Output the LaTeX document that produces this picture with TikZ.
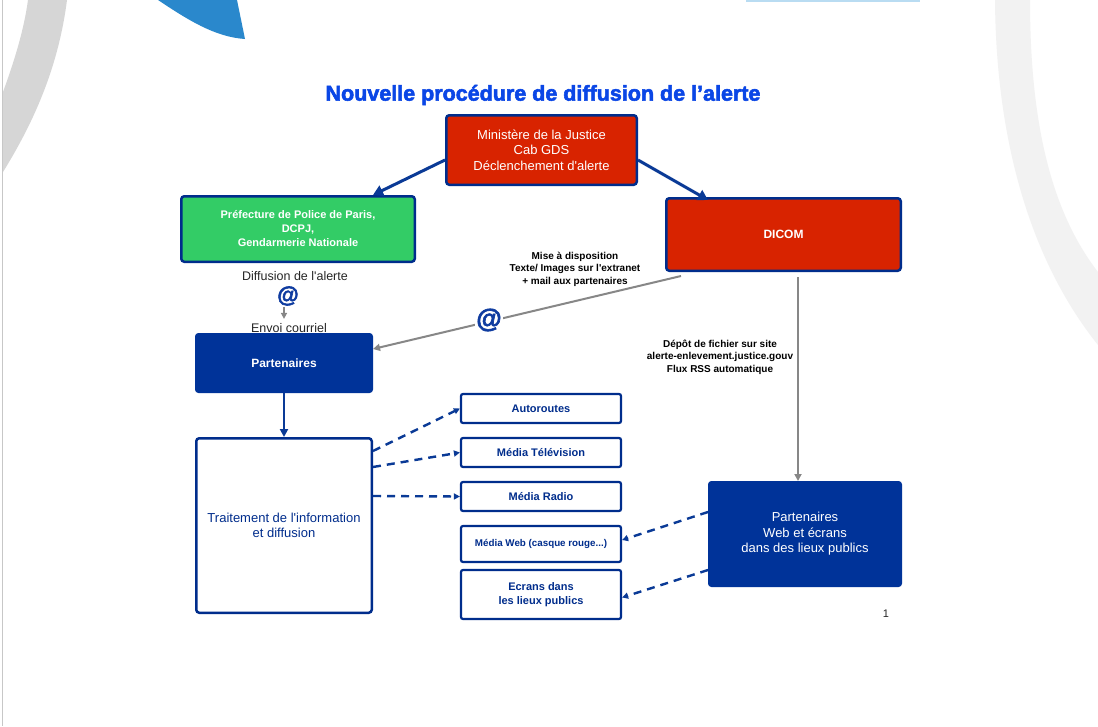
\documentclass[tikz,border=0pt]{standalone}
\usepackage{fontspec}
\setmainfont{Liberation Sans}
\newfontfamily\titlefont[BoldFeatures={FakeBold=2.5}]{Liberation Sans}
\usetikzlibrary{arrows.meta,calc}
\definecolor{boxred}{RGB}{216,35,0}
\definecolor{boxgreen}{RGB}{51,204,102}
\definecolor{navyline}{RGB}{0,45,140}
\definecolor{navyfill}{RGB}{0,51,153}
\definecolor{arrownavy}{RGB}{10,58,150}
\definecolor{arrowgrey}{RGB}{135,135,135}
\definecolor{titleblue}{RGB}{10,70,230}
\definecolor{leftarc}{RGB}{214,214,214}
\definecolor{rightarc}{RGB}{242,242,242}
\definecolor{swoosh}{RGB}{42,136,204}
\definecolor{topline}{RGB}{185,220,242}
\definecolor{atblue}{RGB}{15,60,160}
\newcommand{\apos}{\textquotesingle}
\tikzset{
  box/.style={rectangle, rounded corners=3pt, line width=2.5pt, inner sep=0pt, align=center},
  redbox/.style={box, draw=navyline, fill=boxred, text=white},
  greenbox/.style={box, draw=navyline, fill=boxgreen, text=white},
  navybox/.style={box, draw=navyfill, fill=navyfill, text=white, line width=1pt},
  whitebox/.style={box, draw=navyline, fill=white, text=navyline},
  smallbox/.style={whitebox, minimum width=160pt, line width=2.2pt, rounded corners=2pt},
  fregular/.style={font=\fontsize{13}{15.5}\selectfont},
  fbold/.style={font=\bfseries\fontsize{11}{14}\selectfont},
  flabel/.style={font=\bfseries\fontsize{10}{12.5}\selectfont, align=center, text=black},
  solidarrow/.style={draw=arrownavy, line width=3pt, -{Triangle[length=10pt,width=11pt]}},
  thinarrow/.style={draw=arrownavy, line width=2pt, -{Triangle[length=8pt,width=8pt]}},
  dasharrow/.style={draw=arrownavy, line width=2.4pt, dash pattern=on 8pt off 6pt, -{Triangle[length=6pt,width=6pt]}},
  greyarrow/.style={draw=arrowgrey, line width=2pt, -{Triangle[length=7pt,width=7pt]}},
  atsign/.style={text=atblue, font=\titlefont\bfseries\fontsize{22}{22}\selectfont, fill=white, inner sep=1pt},
}
\begin{document}
\begin{tikzpicture}[x=1pt,y=-1pt]
\useasboundingbox (0,0) rectangle (1098,726);
\fill[white] (0,0) rectangle (1098,726);
% background decorations
\fill[leftarc] (28,0) -- (67,0) .. controls (58,70) and (32,125) .. (3,172) -- (3,92) .. controls (14,62) and (24,30) .. (28,0) -- cycle;
\fill[rightarc] (995,0) -- (1030,0) .. controls (1030,120) and (1050,210) .. (1098,272) -- (1098,345) .. controls (1030,260) and (996,140) .. (995,0) -- cycle;
\fill[swoosh] (158,0) -- (237,0) -- (245,39) .. controls (215,37) and (188,20) .. (158,0) -- cycle;
\fill[topline] (746,0) rectangle (920,2);
\draw[line width=1pt, color=black!22] (2,0) -- (2,726);

% title
\node[text=titleblue, font=\titlefont\bfseries\fontsize{21.5}{23}\selectfont] (title) at (543,95) {Nouvelle procédure de diffusion de l’alerte};

% boxes
\node[redbox, fregular, minimum width=190.5pt, minimum height=69.5pt] (min) at (541.5,150)
  {Ministère de la Justice\\Cab GDS\\Déclenchement d\apos alerte};
\node[greenbox, fbold, minimum width=233.5pt, minimum height=65.5pt] (pref) at (298,229)
  {Préfecture de Police de Paris,\\DCPJ,\\Gendarmerie Nationale};
\node[redbox, font=\bfseries\fontsize{12}{14}\selectfont, minimum width=234.5pt, minimum height=72.5pt] (dicom) at (783.5,234.5) {DICOM};
\node[navybox, font=\bfseries\fontsize{12}{14}\selectfont, minimum width=177pt, minimum height=59pt] (part) at (284,363) {Partenaires};
\node[whitebox, fregular, minimum width=175.5pt, minimum height=174.5pt] (trait) at (284,525.5)
  {Traitement de l\apos information\\et diffusion};
\node[smallbox, fbold, minimum height=29pt] (auto) at (541,408.5) {Autoroutes};
\node[smallbox, fbold, minimum height=29pt] (tv) at (541,452.5) {Média Télévision};
\node[smallbox, fbold, minimum height=29pt] (radio) at (541,496.5) {Média Radio};
\node[smallbox, font=\bfseries\fontsize{9.8}{12}\selectfont, minimum height=36pt] (web) at (541,544) {Média Web (casque rouge...)};
\node[smallbox, fbold, minimum height=49pt] (ecr) at (541,594.5) {Ecrans dans\\les lieux publics};
\node[navybox, fregular, minimum width=193pt, minimum height=105pt] (pw) at (805,534)
  {Partenaires\\Web et écrans\\dans des lieux publics};

% labels
\node[flabel] (lab1) at (575,269) {Mise à disposition\\Texte/ Images sur l\apos extranet\\+ mail aux partenaires};
\node[flabel] (lab2) at (720,357) {Dépôt de fichier sur site\\alerte-enlevement.justice.gouv\\Flux RSS automatique};
\node[font=\fontsize{12.5}{14}\selectfont, text=black!85] (diff) at (295,276) {Diffusion de l\apos alerte};
\node[atsign] (at1) at (288,296) {@};
\node[font=\fontsize{12.5}{14}\selectfont, text=black!85] (envoi) at (289,328) {Envoi courriel};
\node[font=\fontsize{11}{12}\selectfont, text=black!85] (page) at (886,614) {1};

% connectors
\draw[solidarrow] ([yshift=-10pt]min.west) -- ([xshift=-43pt]pref.north east);
\draw[solidarrow] ([yshift=-10pt]min.east) -- ([xshift=43pt,yshift=-3pt]dicom.north west);
\draw[greyarrow] ([xshift=16pt,yshift=-4pt]dicom.south west) -- ([yshift=14pt]part.east);
\node[atsign, font=\titlefont\bfseries\fontsize{26}{26}\selectfont] (at2) at (489,320) {@};
\draw[greyarrow, line width=1.6pt, -{Triangle[length=6pt,width=6pt]}] ([xshift=-4pt]at1.south) -- ([xshift=-5pt,yshift=1pt]envoi.north);
\draw[thinarrow] (part.south) -- (trait.north);
\draw[dasharrow] ([yshift=74.5pt]trait.east) -- (auto.west);
\draw[dasharrow] ([yshift=58.5pt]trait.east) -- (tv.west);
\draw[dasharrow] ([yshift=29.5pt]trait.east) -- (radio.west);
\draw[dasharrow] ([yshift=22pt]pw.west) -- ([yshift=4pt]web.east);
\draw[dasharrow] ([yshift=-36pt]pw.west) -- ([yshift=-3pt]ecr.east);
\draw[greyarrow] ([xshift=14.5pt,yshift=-5pt]dicom.south) -- ([xshift=-7pt]pw.north);
\end{tikzpicture}
\end{document}
